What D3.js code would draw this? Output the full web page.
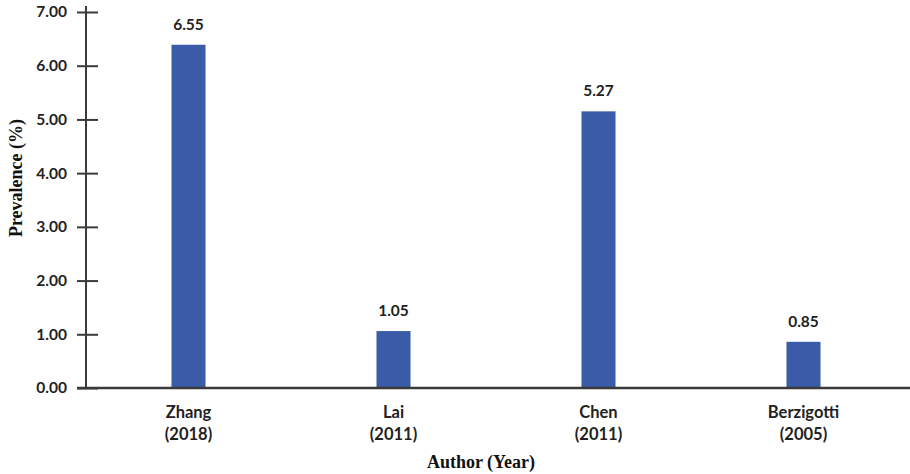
<!DOCTYPE html>
<html><head><meta charset="utf-8">
<script src="https://cdn.jsdelivr.net/npm/d3@7"></script>
<style>
html,body{margin:0;padding:0;background:#fff;}
svg{display:block;}
</style></head>
<body>
<svg id="chart" width="910" height="474"></svg>
<script>
// Data
const authors = ["Zhang", "Lai", "Chen", "Berzigotti"];
const years = ["(2018)", "(2011)", "(2011)", "(2005)"];
const barValues = [6.39, 1.06, 5.15, 0.86];      // bar heights as drawn
const valueLabels = ["6.55", "1.05", "5.27", "0.85"]; // printed labels
const yTicks = [0, 1, 2, 3, 4, 5, 6, 7];
const yTitle = "Prevalence (%)";
const xTitle = "Author (Year)";

const svg = d3.select("#chart");
const sans = "Lato, 'Open Sans', sans-serif";
const serif = "'Liberation Serif', 'Times New Roman', serif";
const axisColor = "#3a3a3a";
const barColor = "#3A5BA7";

const x = d3.scaleBand().domain(authors).range([86, 906])
  .paddingInner(0.834).paddingOuter(0.417);
const y = d3.scaleLinear().domain([0, 7]).range([388, 12]);

// bars
svg.selectAll("rect.bar").data(authors).join("rect")
  .attr("class", "bar")
  .attr("x", d => x(d))
  .attr("width", x.bandwidth())
  .attr("y", (d, i) => y(barValues[i]))
  .attr("height", (d, i) => y(0) - y(barValues[i]))
  .attr("fill", barColor);

// value labels
svg.selectAll("text.val").data(authors).join("text")
  .attr("class", "val")
  .attr("x", d => x(d) + x.bandwidth() / 2)
  .attr("y", (d, i) => y(barValues[i]) - 15)
  .attr("text-anchor", "middle")
  .attr("font-family", sans).attr("font-weight", "bold")
  .attr("font-size", 15.5).attr("fill", "#222")
  .text((d, i) => valueLabels[i]);

// y axis
const yAxis = d3.axisLeft(y).tickValues(yTicks).tickFormat(d3.format(".2f"))
  .tickSizeInner(0).tickSizeOuter(0).tickPadding(19);
const gy = svg.append("g").attr("transform", "translate(86,0)").call(yAxis);
gy.select(".domain").remove();
gy.selectAll(".tick line").attr("x1", -9).attr("x2", 12)
  .attr("stroke", axisColor).attr("stroke-width", 2);
gy.selectAll(".tick text").attr("font-family", sans).attr("font-weight", "bold")
  .attr("font-size", 15.5).attr("fill", "#222");
gy.append("line").attr("x1", 0).attr("x2", 0).attr("y1", 6).attr("y2", y(0))
  .attr("stroke", axisColor).attr("stroke-width", 2);

// x axis
const xAxis = d3.axisBottom(x).tickSize(0).tickFormat(() => "");
const gx = svg.append("g").attr("transform", `translate(0,${y(0)})`).call(xAxis);
gx.select(".domain").remove();
gx.append("line").attr("x1", 77).attr("x2", 910).attr("y1", 0).attr("y2", 0)
  .attr("stroke", axisColor).attr("stroke-width", 2.5);
gx.selectAll(".tick text").remove();
gx.selectAll(".tick").each(function(d, i) {
  const t = d3.select(this).append("text")
    .attr("text-anchor", "middle").attr("font-family", sans)
    .attr("font-weight", "bold").attr("font-size", 16.5).attr("fill", "#222");
  t.append("tspan").attr("x", 0).attr("y", 30).text(authors[i]);
  t.append("tspan").attr("x", 0).attr("y", 52).text(years[i]);
});

// titles
svg.append("text").attr("x", 481).attr("y", 468).attr("text-anchor", "middle")
  .attr("font-family", serif).attr("font-weight", "bold").attr("font-size", 18)
  .attr("fill", "#111").text(xTitle);
svg.append("text").attr("transform", "translate(22,178) rotate(-90)")
  .attr("text-anchor", "middle")
  .attr("font-family", serif).attr("font-weight", "bold").attr("font-size", 18)
  .attr("fill", "#111").text(yTitle);
</script>
</body></html>
